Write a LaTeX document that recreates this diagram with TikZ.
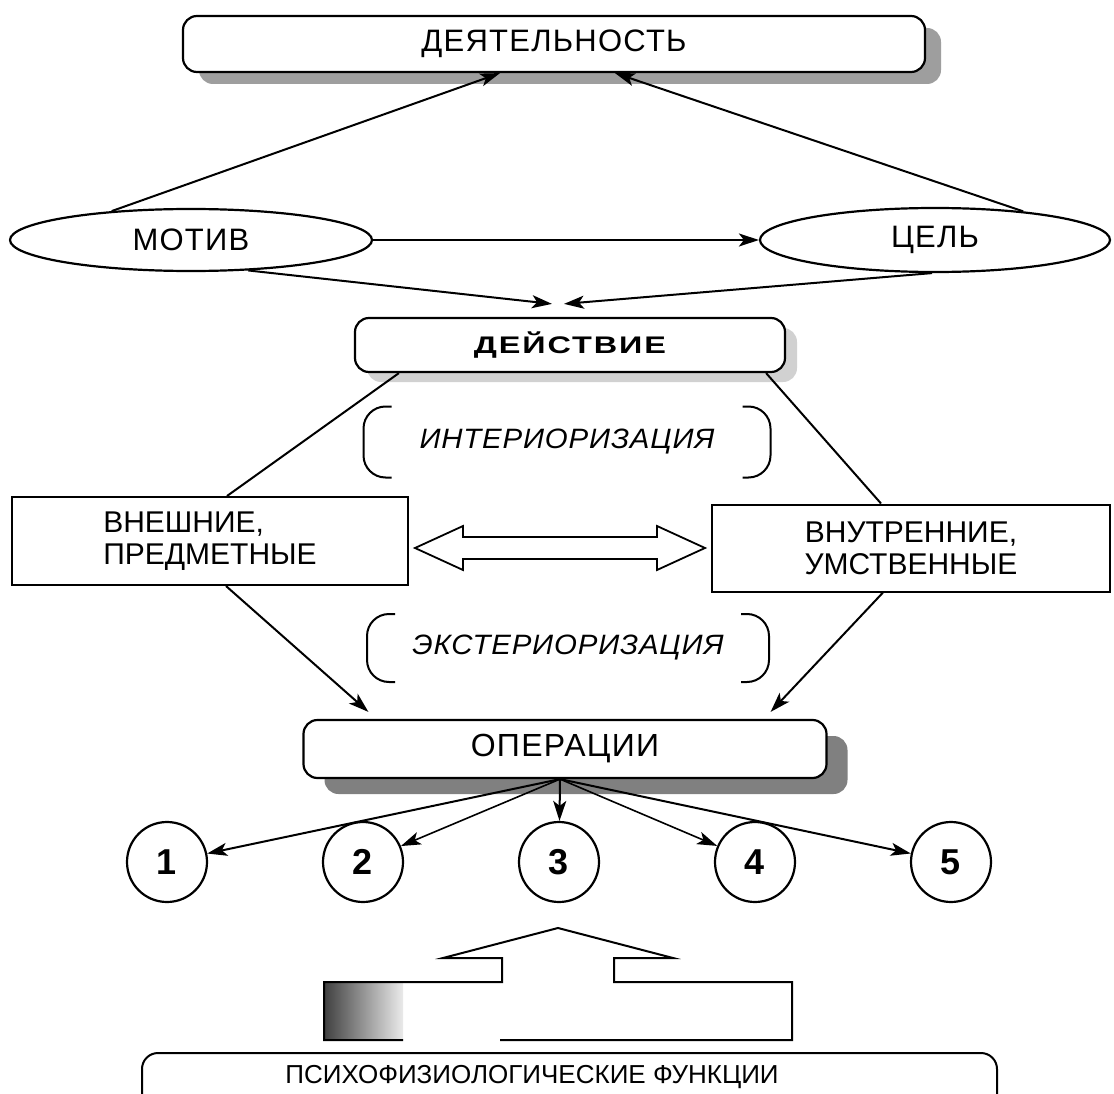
\documentclass[tikz,border=0pt]{standalone}
\usepackage{fontspec}
\setmainfont{Liberation Sans}
\newfontfamily\spacedfont[LetterSpace=4]{Liberation Sans}
\newfontfamily\widefont[FakeStretch=1.35,LetterSpace=8]{Liberation Sans}
\newfontfamily\slantfont[FakeStretch=1.05,LetterSpace=3]{Liberation Sans}
\usetikzlibrary{arrows.meta,shapes.geometric,shadows,positioning}

\begin{document}
\begin{tikzpicture}[x=1pt, y=-1pt, ->, >={Stealth[length=20pt,width=13pt,inset=5pt]},
  line width=2pt, node distance=196pt,
  rbox/.style={draw, rounded corners=14pt, line width=2.2pt, fill=white, inner sep=0pt},
  oval/.style={draw, ellipse, line width=2.2pt, inner sep=0pt, font=\spacedfont\fontsize{31}{33}\selectfont},
  sbox/.style={draw, rectangle, line width=2pt, inner sep=0pt, font=\fontsize{30}{32}\selectfont},
  num node/.style={draw, circle, line width=2.2pt, minimum size=80pt, inner sep=0pt, font=\fontsize{36}{36}\selectfont\bfseries},
  bracketed/.style={inner sep=0pt, font=\slantfont\fontsize{28}{30}\selectfont\itshape},
  paren/.style={-, line width=2pt, rounded corners=22pt}]
\fill[white, use as bounding box] (0,0) rectangle (1114,1094);

\node[rbox, minimum width=742pt, minimum height=56pt, font=\spacedfont\fontsize{31}{33}\selectfont,
  drop shadow={shadow xshift=16pt, shadow yshift=-12pt, fill=black!38, opacity=1}] (act) at (554,44) {ДЕЯТЕЛЬНОСТЬ};
\node[oval, minimum width=362pt, minimum height=62pt] (motive) at (191,240) {МОТИВ};
\node[oval, minimum width=350pt, minimum height=64pt] (goal) at (935,240) {ЦЕЛЬ};
\node[rbox, minimum width=430pt, minimum height=54pt, font=\widefont\fontsize{24}{26}\selectfont\bfseries,
  drop shadow={shadow xshift=12pt, shadow yshift=-10pt, fill=black!18, opacity=1}] (action) at (570,345) {ДЕЙСТВИЕ};
\node[bracketed, minimum width=405pt, minimum height=69pt] (inner) at (567,442) {ИНТЕРИОРИЗАЦИЯ};
\node[sbox, minimum width=396pt, minimum height=88pt, align=left] (ext) at (210,541) {ВНЕШНИЕ,\\ПРЕДМЕТНЫЕ};
\node[sbox, minimum width=398pt, minimum height=87pt, align=center] (int) at (911,548) {ВНУТРЕННИЕ,\\УМСТВЕННЫЕ};
\node[bracketed, minimum width=400pt, minimum height=66pt] (outer) at (568,648) {ЭКСТЕРИОРИЗАЦИЯ};
\node[rbox, minimum width=523pt, minimum height=58pt, font=\spacedfont\fontsize{32}{34}\selectfont,
  drop shadow={shadow xshift=21pt, shadow yshift=-16pt, fill=black!50, opacity=1}] (ops) at (565,749) {ОПЕРАЦИИ};
\coordinate (fan) at ([xshift=-5pt]ops.south);

\node[num node] (n1) at (167,862) {1};
\node[num node, right of=n1] (n2) {2};
\node[num node, right of=n2] (n3) {3};
\node[num node, right of=n3] (n4) {4};
\node[num node, right of=n4] (n5) {5};

\node[font=\fontsize{26}{28}\selectfont] (psych) at (532,1077) {ПСИХОФИЗИОЛОГИЧЕСКИЕ ФУНКЦИИ};
\draw[-, line width=2pt, rounded corners=16pt] (142,1053) rectangle (997,1110);

% brackets round the two transitions
\draw[paren] ([xshift=28pt]inner.north west) -- (inner.north west) -- (inner.south west) -- ([xshift=28pt]inner.south west);
\draw[paren] ([xshift=-28pt]inner.north east) -- (inner.north east) -- (inner.south east) -- ([xshift=-28pt]inner.south east);
\draw[paren] ([xshift=28pt]outer.north west) -- (outer.north west) -- (outer.south west) -- ([xshift=28pt]outer.south west);
\draw[paren] ([xshift=-28pt]outer.north east) -- (outer.north east) -- (outer.south east) -- ([xshift=-28pt]outer.south east);

\path
(motive.160) edge ([xshift=-54pt]act.south)
(goal.18) edge ([xshift=61pt]act.south)
(motive) edge (goal)
(motive.-28) edge ([xshift=-18pt,yshift=13pt]action.north)
(goal.265) edge ([xshift=-6pt,yshift=13pt]action.north)
([xshift=215pt]ext.south west) edge ([xshift=66pt,yshift=7pt]ops.north west)
([xshift=172pt]int.south west) edge ([xshift=-57pt,yshift=7pt]ops.north east)
(fan) edge (n1)
(fan) edge[line width=1.6pt] (n2)
(fan) edge (n3)
(fan) edge[line width=1.6pt] (n4)
(fan) edge (n5);

\path[-]
([xshift=45pt]action.south west) edge ([xshift=216pt]ext.north west)
([xshift=-20pt]action.south east) edge ([xshift=170pt]int.north west);

% hollow double arrow
\draw[-, line width=1.8pt] (415,548) -- (463,526) -- (463,537) -- (657,537) -- (657,526) -- (705,548)
  -- (657,570) -- (657,559) -- (463,559) -- (463,570) -- cycle;

% big hollow arrow from below
\shade[left color=black!75, right color=black!8] (324,982) rectangle (403,1040);
\draw[-, line width=2pt] (403,1040) -- (324,1040) -- (324,982) -- (502,982) -- (502,958) -- (443,958)
  -- (558,928) -- (673,958) -- (614,958) -- (614,982) -- (792,982) -- (792,1040) -- (500,1040);
\end{tikzpicture}
\end{document}
